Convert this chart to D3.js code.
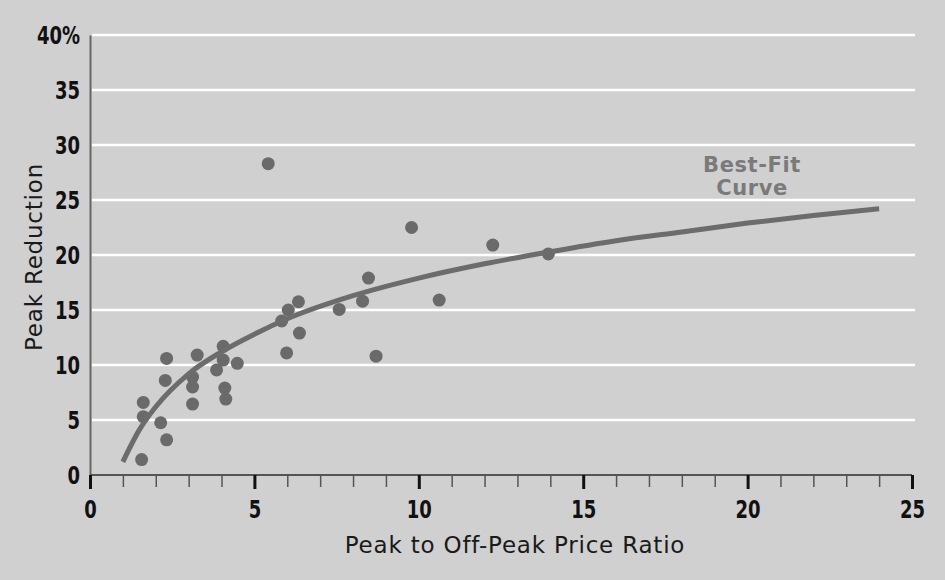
<!DOCTYPE html>
<html>
<head>
<meta charset="utf-8">
<script src="https://cdn.jsdelivr.net/npm/d3@7"></script>
<style>
  html, body { margin: 0; padding: 0; background: #d0d0d0; }
  svg { display: block; }
</style>
</head>
<body>
<svg id="chart" width="945" height="580"></svg>
<script>
// Observed programs: peak/off-peak price ratio vs. peak reduction (%)
const ratios = [1.57, 1.62, 1.62, 2.15, 2.33, 2.29, 2.33, 3.12, 3.12, 3.12, 3.26,
  3.85, 4.05, 4.05, 4.10, 4.13, 4.48, 5.42, 5.83, 6.03, 6.34, 6.37, 5.98, 7.58,
  8.29, 8.47, 8.70, 9.78, 10.62, 12.25, 13.94];
const reductions = [1.4, 6.6, 5.3, 4.75, 3.2, 8.6, 10.6, 8.9, 8.0, 6.45, 10.9,
  9.55, 11.7, 10.45, 7.9, 6.9, 10.15, 28.3, 14.0, 15.0, 15.75, 12.9, 11.1, 15.05,
  15.8, 17.9, 10.8, 22.5, 15.9, 20.9, 20.1];

// Best-fit curve, sampled along its length
const fitRatios = [1, 1.5, 2, 3, 4, 5, 6, 8, 10, 12, 14, 16, 18, 20, 22, 24];
const fitReductions = [1.2, 4.1, 6.2, 9.2, 11.2, 12.8, 14.2, 16.3, 17.9, 19.2,
  20.3, 21.3, 22.1, 22.9, 23.6, 24.2];

const xTicks = [0, 5, 10, 15, 20, 25];
const xMinorTicks = d3.range(0, 26);
const yTicks = [0, 5, 10, 15, 20, 25, 30, 35, 40];
const yTickLabels = ["0", "5", "10", "15", "20", "25", "30", "35", "40%"];

const svg = d3.select("#chart");
const margin = { left: 90, right: 33, top: 35, bottom: 105 };
const W = 945, H = 580;

const x = d3.scaleLinear().domain([0, 25]).range([margin.left, W - margin.right]);
const y = d3.scaleLinear().domain([0, 40]).range([H - margin.bottom, margin.top]);

const tickFont = "'Liberation Sans Narrow', 'DejaVu Sans Condensed', sans-serif";
const titleFont = "'DejaVu Sans', 'Noto Sans', sans-serif";
const squeeze = 0.8; // condensed look for tick numerals

// Background
svg.append("rect").attr("width", W).attr("height", H).attr("fill", "#d0d0d0");

// Horizontal gridlines
svg.append("g")
  .selectAll("line")
  .data(yTicks.filter(d => d > 0))
  .join("line")
  .attr("x1", x(0) + 2)
  .attr("x2", W - 30)
  .attr("y1", d => y(d))
  .attr("y2", d => y(d))
  .attr("stroke", "#ffffff")
  .attr("stroke-width", 2.5);

// Y axis: line with labels, no tick marks
const yAxis = d3.axisLeft(y)
  .tickValues(yTicks)
  .tickSize(0)
  .tickPadding(10)
  .tickFormat((d, i) => yTickLabels[i]);
const gy = svg.append("g").attr("transform", `translate(${x(0)},0)`).call(yAxis);
gy.select(".domain").attr("stroke", "#666").attr("stroke-width", 2);
gy.selectAll("text")
  .attr("x", 0)
  .attr("transform", `translate(-10,0) scale(${squeeze},1)`)
  .attr("font-family", tickFont)
  .attr("font-size", 25)
  .attr("font-weight", "bold")
  .attr("fill", "#111");

// X axis: minor ticks every unit, heavier majors every 5
const gxMinor = svg.append("g").attr("transform", `translate(0,${y(0)})`)
  .call(d3.axisBottom(x).tickValues(xMinorTicks.filter(d => d % 5 !== 0)).tickSize(12).tickFormat(""));
gxMinor.select(".domain").remove();
gxMinor.selectAll("line").attr("stroke", "#555").attr("stroke-width", 1.5);

const gx = svg.append("g").attr("transform", `translate(0,${y(0)})`)
  .call(d3.axisBottom(x).tickValues(xTicks).tickSize(14).tickPadding(11).tickFormat(d3.format("d")));
gx.select(".domain").attr("stroke", "#555").attr("stroke-width", 2)
  .attr("d", `M${x(0)},0H${x(25)}`);
gx.selectAll(".tick line").attr("stroke", "#111").attr("stroke-width", 3);
gx.selectAll("text")
  .attr("transform", `scale(${squeeze},1)`)
  .attr("font-family", tickFont)
  .attr("font-size", 25)
  .attr("font-weight", "bold")
  .attr("fill", "#111");

// Axis titles
svg.append("text")
  .attr("x", 515)
  .attr("y", 553)
  .attr("text-anchor", "middle")
  .attr("font-family", titleFont)
  .attr("font-size", 23)
  .attr("letter-spacing", 0.8)
  .attr("fill", "#1a1a1a")
  .text("Peak to Off-Peak Price Ratio");

svg.append("text")
  .attr("transform", "translate(42,257) rotate(-90)")
  .attr("text-anchor", "middle")
  .attr("font-family", titleFont)
  .attr("font-size", 23)
  .attr("letter-spacing", 0.8)
  .attr("fill", "#1a1a1a")
  .text("Peak Reduction");

// Data points
svg.append("g")
  .selectAll("circle")
  .data(ratios.map((r, i) => [r, reductions[i]]))
  .join("circle")
  .attr("cx", d => x(d[0]))
  .attr("cy", d => y(d[1]))
  .attr("r", 6.5)
  .attr("fill", "#6a6a6a");

// Best-fit curve
const line = d3.line()
  .x(d => x(d[0]))
  .y(d => y(d[1]))
  .curve(d3.curveMonotoneX);
svg.append("path")
  .datum(fitRatios.map((r, i) => [r, fitReductions[i]]))
  .attr("d", line)
  .attr("fill", "none")
  .attr("stroke", "#6c6c6c")
  .attr("stroke-width", 5)
  .attr("stroke-linecap", "butt");

// Curve label
const lbl = svg.append("text")
  .attr("text-anchor", "middle")
  .attr("font-family", titleFont)
  .attr("font-size", 21)
  .attr("font-weight", "bold")
  .attr("letter-spacing", 0.6)
  .attr("fill", "#7a7a7a");
lbl.append("tspan").attr("x", 752).attr("y", 172).text("Best-Fit");
lbl.append("tspan").attr("x", 752).attr("y", 195).text("Curve");
</script>
</body>
</html>
